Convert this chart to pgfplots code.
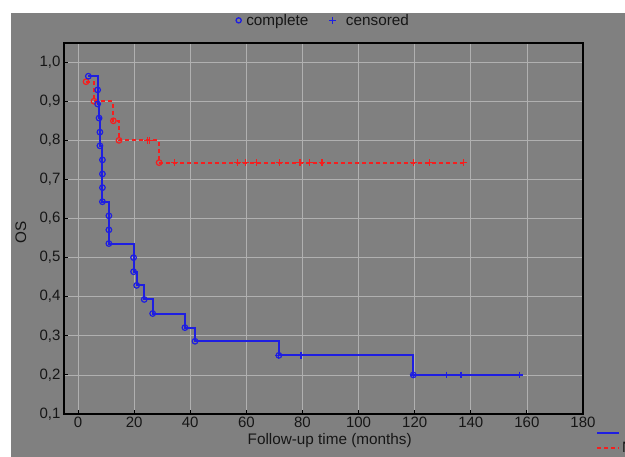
\documentclass[border=0pt]{standalone}
\usepackage{fontspec}
\setmainfont{Liberation Sans}
\usepackage{pgfplots}
\pgfplotsset{compat=1.18}

\definecolor{bggray}{RGB}{128,128,128}
\definecolor{gridgray}{RGB}{176,176,176}
\definecolor{kmblue}{RGB}{30,30,225}
\definecolor{kmred}{RGB}{245,30,30}
\definecolor{txt}{RGB}{22,22,22}

% Kaplan-Meier steps
\pgfplotstableread{
t S
3.68 0.964
7.0 0.929
7.0 0.893
7.5 0.857
7.8 0.821
7.8 0.786
8.7 0.750
8.7 0.714
8.7 0.679
8.7 0.643
11.0 0.607
11.0 0.571
11.0 0.536
19.8 0.500
19.8 0.464
20.9 0.429
23.6 0.393
26.6 0.357
38.1 0.321
41.7 0.286
71.6 0.250
119.5 0.200
157.5 0.200
}\bluesteps

\pgfplotstableread{
t S
3.68 0.964
7.0 0.929
7.0 0.893
7.5 0.857
7.8 0.821
7.8 0.786
8.7 0.750
8.7 0.714
8.7 0.679
8.7 0.643
11.0 0.607
11.0 0.571
11.0 0.536
19.8 0.500
19.8 0.464
20.9 0.429
23.6 0.393
26.6 0.357
38.1 0.321
41.7 0.286
71.6 0.250
119.5 0.200
}\bluedone

\pgfplotstableread{
t S
71.6 0.250
79.5 0.250
119.5 0.200
131.4 0.200
136.5 0.200
157.5 0.200
}\bluecens

\pgfplotstableread{
t S
2.85 0.950
5.7 0.900
12.5 0.850
14.6 0.800
28.8 0.743
137.3 0.743
}\redsteps

\pgfplotstableread{
t S
2.85 0.950
5.7 0.900
12.6 0.850
14.6 0.800
28.9 0.743
}\reddone

\pgfplotstableread{
t S
24.9 0.800
25.4 0.800
34.3 0.743
56.8 0.743
59.8 0.743
63.7 0.743
71.7 0.743
78.9 0.743
79.4 0.743
82.5 0.743
87.0 0.743
119.5 0.743
125.2 0.743
137.3 0.743
}\redcens

\begin{document}
\begin{tikzpicture}[x=1pt,y=1pt]
\fill[white] (0,0) rectangle (625,457);
\fill[bggray] (11,0) rectangle (625,444);

\begin{axis}[
    at={(64pt,43pt)}, anchor=south west,
    scale only axis, width=519pt, height=371pt,
    xmin=-5, xmax=180, ymin=0.1, ymax=1.049,
    xtick={0,20,40,60,80,100,120,140,160,180},
    ytick={0.1,0.2,0.3,0.4,0.5,0.6,0.7,0.8,0.9,1.0},
    xtick pos=bottom, ytick pos=left, tick align=inside,
    major tick length=4pt,
    tick style={black, line width=0.9pt},
    axis line style={black, line width=1.3pt},
    grid=major,
    major grid style={gridgray, line width=0.7pt},
    /pgf/number format/assume math mode=true,
    ticklabel style={font=\fontsize{15}{18}\selectfont, text=txt},
    yticklabel style={/pgf/number format/.cd, fixed, fixed zerofill, precision=1, use comma},
    xticklabel style={/pgf/number format/.cd, fixed, precision=0},
    xlabel={Follow-up time (months)},
    ylabel={OS},
    label style={font=\fontsize{15.3}{18}\selectfont, text=txt},
    xlabel style={at={(axis description cs:0.512,-0.072)}, anchor=center},
    ylabel style={at={(axis description cs:-0.083,0.49)}, anchor=center, rotate=0},
    legend columns=2,
    legend style={at={(axis description cs:0.5,1.061)}, anchor=center,
        draw=none, fill=none, font=\fontsize{15.3}{18}\selectfont, text=txt,
        /tikz/every odd column/.append style={column sep=3pt},
        /tikz/every even column/.append style={column sep=19pt}},
]
\addlegendimage{only marks, mark=o, kmblue, mark size=2.6pt, line width=1.3pt}
\addlegendentry{complete}
\addlegendimage{only marks, mark=+, kmblue, mark size=3.3pt, line width=1.3pt}
\addlegendentry{\hspace{5pt}censored}

\addplot[forget plot, kmred, line width=1.8pt, dash pattern=on 4pt off 3pt, const plot] table[x=t,y=S] {\redsteps};
\addplot[forget plot, only marks, mark=o, kmred, mark size=2.8pt, line width=1.2pt] table[x=t,y=S] {\reddone};
\addplot[forget plot, only marks, mark=+, kmred, mark size=3.4pt, line width=1.2pt] table[x=t,y=S] {\redcens};

\addplot[forget plot, kmblue, line width=2pt, const plot] table[x=t,y=S] {\bluesteps};
\addplot[forget plot, only marks, mark=o, kmblue, mark size=2.8pt, line width=1.2pt] table[x=t,y=S] {\bluedone};
\addplot[forget plot, only marks, mark=+, kmblue, mark size=3.4pt, line width=1.2pt] table[x=t,y=S] {\bluecens};
\end{axis}

% group legend at the lower right, cut by the edge of the picture
\begin{axis}[
    at={(64pt,43pt)}, anchor=south west,
    scale only axis, width=519pt, height=371pt,
    xmin=0, xmax=1, ymin=0, ymax=1, hide axis,
    legend style={at={(axis description cs:1.025,-0.071)}, anchor=west,
        draw=none, fill=none, inner sep=0pt, row sep=-1pt,
        font=\fontsize{15}{17}\selectfont, text=txt},
    legend image code/.code={\draw[#1] (0pt,0pt) -- (22pt,0pt);},
]
\addlegendimage{kmblue, line width=2pt}
\addlegendentry{Treated}
\addlegendimage{kmred, line width=1.8pt, dash pattern=on 4pt off 3pt}
\addlegendentry{Not treated}
\end{axis}

\pgfresetboundingbox
\useasboundingbox (0,0) rectangle (625,457);
\end{tikzpicture}
\end{document}
